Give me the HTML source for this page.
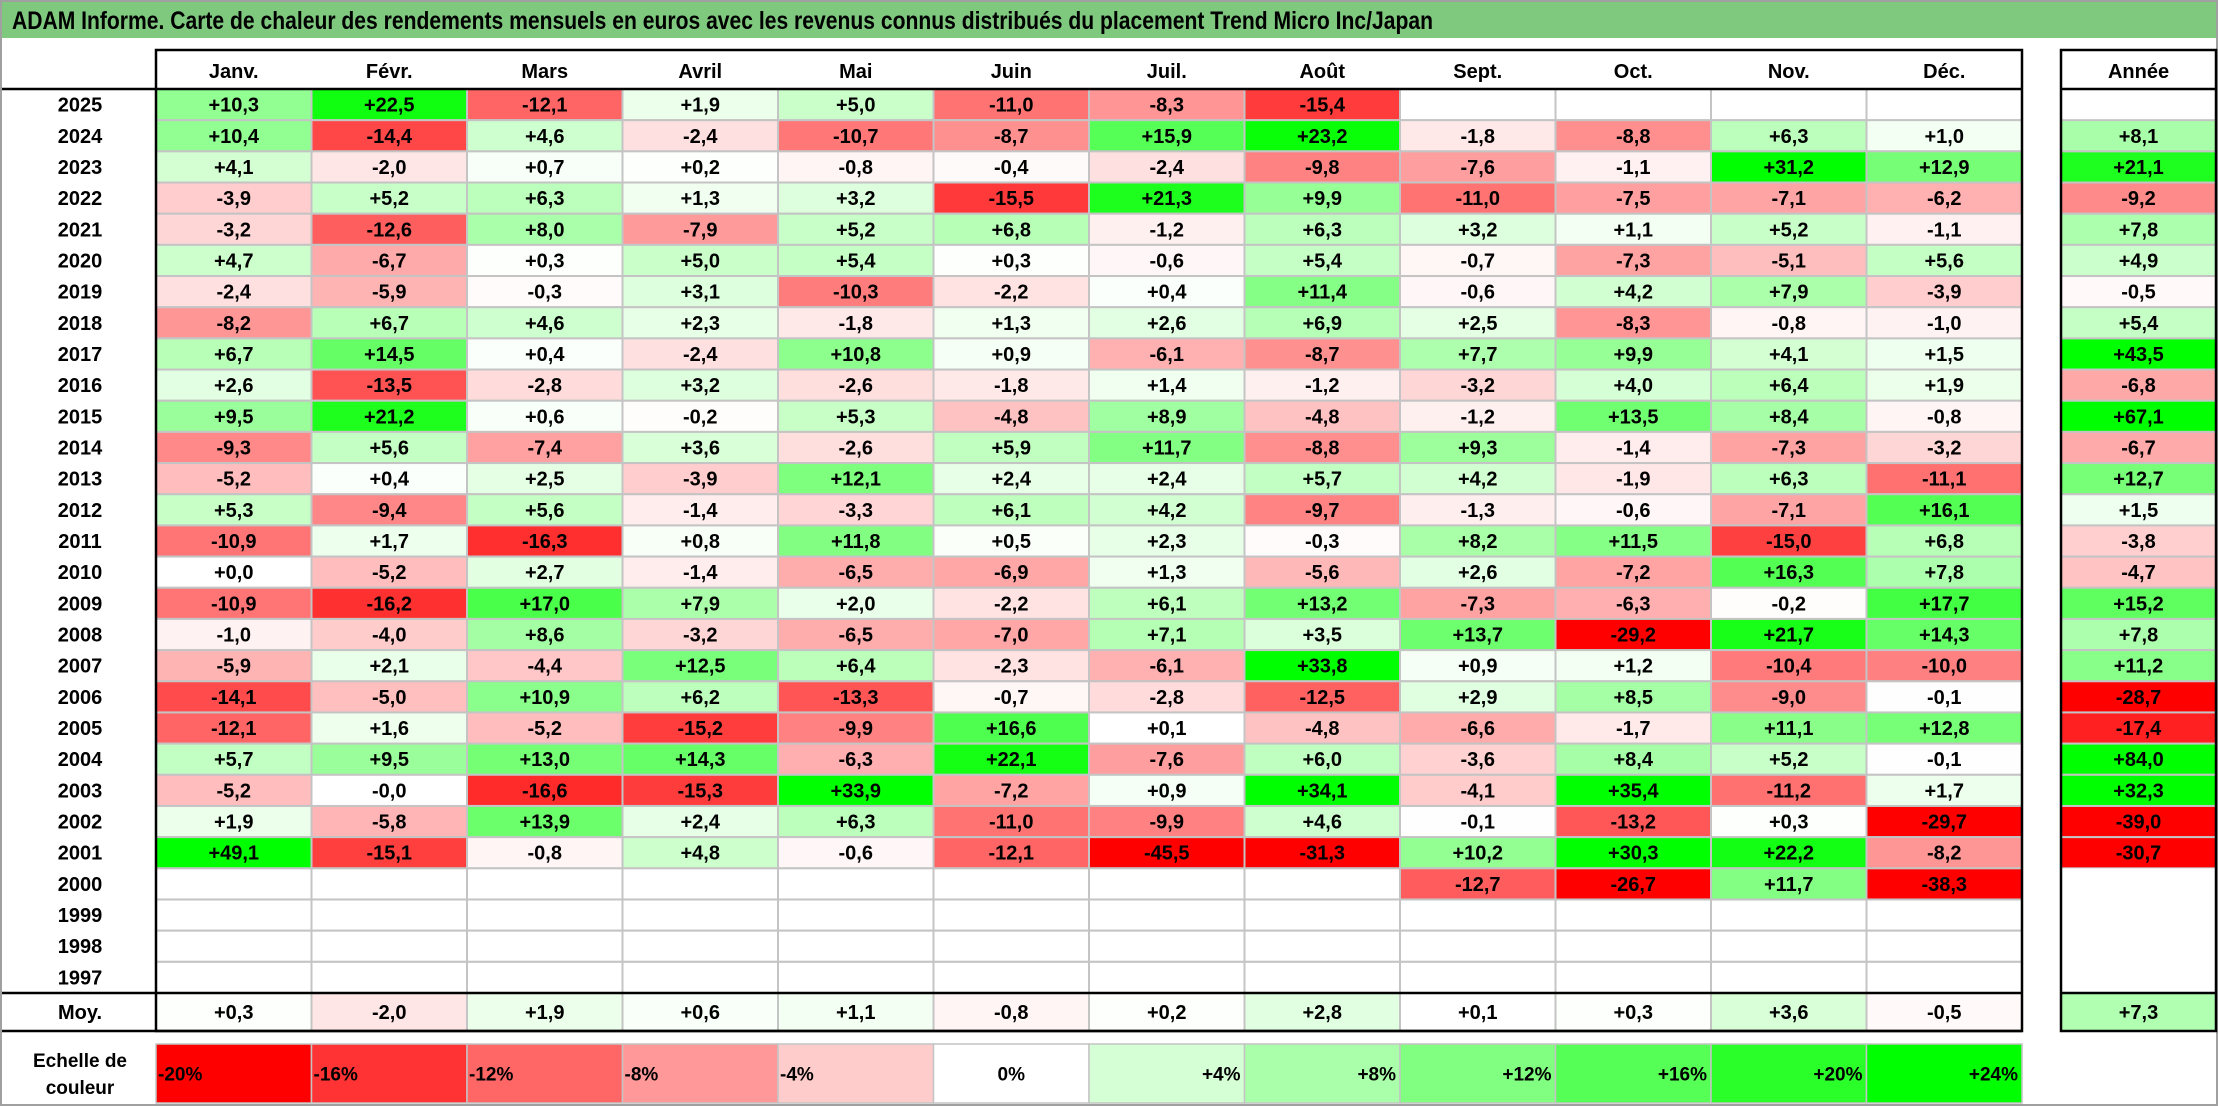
<!DOCTYPE html>
<html><head><meta charset="utf-8">
<style>
html,body{margin:0;padding:0;background:#fff;}
svg{display:block;}
text{font-family:"Liberation Sans",sans-serif;font-weight:bold;fill:#000;}
</style></head>
<body>
<svg id="chart" width="2218" height="1106" xmlns="http://www.w3.org/2000/svg"></svg>
<script>
const months = ["Janv.","Févr.","Mars","Avril","Mai","Juin","Juil.","Août","Sept.","Oct.","Nov.","Déc."];
const years = [2025,2024,2023,2022,2021,2020,2019,2018,2017,2016,2015,2014,2013,2012,2011,2010,2009,2008,2007,2006,2005,2004,2003,2002,2001,2000,1999,1998,1997];
const N = null;
const values = [
[10.3,22.5,-12.1,1.9,5.0,-11.0,-8.3,-15.4,N,N,N,N],
[10.4,-14.4,4.6,-2.4,-10.7,-8.7,15.9,23.2,-1.8,-8.8,6.3,1.0],
[4.1,-2.0,0.7,0.2,-0.8,-0.4,-2.4,-9.8,-7.6,-1.1,31.2,12.9],
[-3.9,5.2,6.3,1.3,3.2,-15.5,21.3,9.9,-11.0,-7.5,-7.1,-6.2],
[-3.2,-12.6,8.0,-7.9,5.2,6.8,-1.2,6.3,3.2,1.1,5.2,-1.1],
[4.7,-6.7,0.3,5.0,5.4,0.3,-0.6,5.4,-0.7,-7.3,-5.1,5.6],
[-2.4,-5.9,-0.3,3.1,-10.3,-2.2,0.4,11.4,-0.6,4.2,7.9,-3.9],
[-8.2,6.7,4.6,2.3,-1.8,1.3,2.6,6.9,2.5,-8.3,-0.8,-1.0],
[6.7,14.5,0.4,-2.4,10.8,0.9,-6.1,-8.7,7.7,9.9,4.1,1.5],
[2.6,-13.5,-2.8,3.2,-2.6,-1.8,1.4,-1.2,-3.2,4.0,6.4,1.9],
[9.5,21.2,0.6,-0.2,5.3,-4.8,8.9,-4.8,-1.2,13.5,8.4,-0.8],
[-9.3,5.6,-7.4,3.6,-2.6,5.9,11.7,-8.8,9.3,-1.4,-7.3,-3.2],
[-5.2,0.4,2.5,-3.9,12.1,2.4,2.4,5.7,4.2,-1.9,6.3,-11.1],
[5.3,-9.4,5.6,-1.4,-3.3,6.1,4.2,-9.7,-1.3,-0.6,-7.1,16.1],
[-10.9,1.7,-16.3,0.8,11.8,0.5,2.3,-0.3,8.2,11.5,-15.0,6.8],
[0.0,-5.2,2.7,-1.4,-6.5,-6.9,1.3,-5.6,2.6,-7.2,16.3,7.8],
[-10.9,-16.2,17.0,7.9,2.0,-2.2,6.1,13.2,-7.3,-6.3,-0.2,17.7],
[-1.0,-4.0,8.6,-3.2,-6.5,-7.0,7.1,3.5,13.7,-29.2,21.7,14.3],
[-5.9,2.1,-4.4,12.5,6.4,-2.3,-6.1,33.8,0.9,1.2,-10.4,-10.0],
[-14.1,-5.0,10.9,6.2,-13.3,-0.7,-2.8,-12.5,2.9,8.5,-9.0,-0.1],
[-12.1,1.6,-5.2,-15.2,-9.9,16.6,0.1,-4.8,-6.6,-1.7,11.1,12.8],
[5.7,9.5,13.0,14.3,-6.3,22.1,-7.6,6.0,-3.6,8.4,5.2,-0.1],
[-5.2,-0,-16.6,-15.3,33.9,-7.2,0.9,34.1,-4.1,35.4,-11.2,1.7],
[1.9,-5.8,13.9,2.4,6.3,-11.0,-9.9,4.6,-0.1,-13.2,0.3,-29.7],
[49.1,-15.1,-0.8,4.8,-0.6,-12.1,-45.5,-31.3,10.2,30.3,22.2,-8.2],
[N,N,N,N,N,N,N,N,-12.7,-26.7,11.7,-38.3],
[N,N,N,N,N,N,N,N,N,N,N,N],
[N,N,N,N,N,N,N,N,N,N,N,N],
[N,N,N,N,N,N,N,N,N,N,N,N]
];
const yearTotals = [N,8.1,21.1,-9.2,7.8,4.9,-0.5,5.4,43.5,-6.8,67.1,-6.7,12.7,1.5,-3.8,-4.7,15.2,7.8,11.2,-28.7,-17.4,84.0,32.3,-39.0,-30.7,N,N,N,N];
const monthAvg = [0.3,-2.0,1.9,0.6,1.1,-0.8,0.2,2.8,0.1,0.3,3.6,-0.5];
const avgTotal = 7.3;
const scaleVals = [-20,-16,-12,-8,-4,0,4,8,12,16,20,24];
const scaleLabels = ["-20%","-16%","-12%","-8%","-4%","0%","+4%","+8%","+12%","+16%","+20%","+24%"];

const svg = document.getElementById('chart');
const NS = "http://www.w3.org/2000/svg";
function mk(tag, attrs, parent){
  const e = document.createElementNS(NS, tag);
  for (const k in attrs) e.setAttribute(k, attrs[k]);
  (parent||svg).appendChild(e);
  return e;
}
function color(v){
  if (v === null) return "#fff";
  if (v < 0){
    const t = Math.min(1, -v/20);
    const g = Math.round(255*(1-t));
    return `rgb(255,${g},${g})`;
  } else {
    const t = Math.min(1, v/24);
    const r = Math.round(255*(1-t));
    return `rgb(${r},255,${r})`;
  }
}
function fmt(v){
  const neg = v < 0 || Object.is(v,-0);
  return (neg ? "-" : "+") + Math.abs(v).toFixed(1).replace(".", ",");
}
// geometry
const X0 = 156, X1 = 2022, CW = (X1-X0)/12;
const HY0 = 50, HY1 = 89;
const RH = (993-89)/29;
const MY0 = 993, MY1 = 1031;
const YX0 = 2061, YX1 = 2216;
const SY0 = 1044, SY1 = 1103;
function xCol(i){ return X0 + i*CW; }
function yRow(j){ return HY1 + j*RH; }

// frame + title
let e;
e = mk('rect',{x:1,y:1,width:2216,height:1104,fill:'#fff',stroke:'#a0a0a0','stroke-width':2});
 
e = mk('rect',{x:2,y:2,width:2214,height:36,fill:'#7fc97f'});
 
e = mk('text',{x:12,y:29,'font-size':25,textLength:1421,lengthAdjust:'spacingAndGlyphs'});
e.textContent = "ADAM Informe. Carte de chaleur des rendements mensuels en euros avec les revenus connus distribués du placement Trend Micro Inc/Japan";
 

// month headers
months.forEach((m,i)=>{
  const t = mk('text',{x:xCol(i)+CW/2,y:HY0+28,'font-size':20,'text-anchor':'middle'});
  t.textContent = m;
  
  
});
e = mk('text',{x:(YX0+YX1)/2,y:HY0+28,'font-size':20,'text-anchor':'middle'});
e.textContent = "Année";
 

// cells
const g = mk('g',{});
 
years.forEach((yr,j)=>{
  const y = yRow(j);
  const lab = mk('text',{x:80,y:y+RH/2+7,'font-size':20,'text-anchor':'middle'});
  lab.textContent = yr;
  
  
  values[j].forEach((v,i)=>{
    const r = mk('rect',{x:xCol(i),y:y,width:CW,height:RH,fill:color(v),stroke:'#c4c4c4','stroke-width':2},g);
    
    
    if (v !== null){
      const t = mk('text',{x:xCol(i)+CW/2,y:y+RH/2+7,'font-size':20,'text-anchor':'middle'},g);
      t.textContent = fmt(v);
      
      
    }
  });
  const tv = yearTotals[j];
  const r = mk('rect',{x:YX0,y:y,width:YX1-YX0,height:RH,fill:color(tv),stroke:tv===null?'none':'#c4c4c4','stroke-width':2},g);
  
  
  if (tv !== null){
    const t = mk('text',{x:(YX0+YX1)/2,y:y+RH/2+7,'font-size':20,'text-anchor':'middle'},g);
    t.textContent = fmt(tv);
    
    
  }
});

// average row
e = mk('text',{x:80,y:(MY0+MY1)/2+7,'font-size':20,'text-anchor':'middle'});
e.textContent = "Moy.";
 
monthAvg.forEach((v,i)=>{
  const r = mk('rect',{x:xCol(i),y:MY0,width:CW,height:MY1-MY0,fill:color(v),stroke:'#c4c4c4','stroke-width':2});
  
  
  const t = mk('text',{x:xCol(i)+CW/2,y:(MY0+MY1)/2+7,'font-size':20,'text-anchor':'middle'});
  t.textContent = fmt(v);
  
  
});
e = mk('rect',{x:YX0,y:MY0,width:YX1-YX0,height:MY1-MY0,fill:color(avgTotal)});
 
e = mk('text',{x:(YX0+YX1)/2,y:(MY0+MY1)/2+7,'font-size':20,'text-anchor':'middle'});
e.textContent = fmt(avgTotal);
 

// black borders
const bl = {fill:'none',stroke:'#000','stroke-width':2.5};
e = mk('rect',Object.assign({x:X0,y:HY0,width:X1-X0,height:MY1-HY0},bl));
 
e = mk('rect',Object.assign({x:YX0,y:HY0,width:YX1-YX0,height:MY1-HY0},bl));
 
[[2,HY1,X1,HY1],[YX0,HY1,YX1,HY1],[2,MY0,X1,MY0],[YX0,MY0,YX1,MY0],[2,MY1,X1,MY1]].forEach((l,k)=>{
  const ln = mk('line',{x1:l[0],y1:l[1],x2:l[2],y2:l[3],stroke:'#000','stroke-width':2.5});
  
  
});

// colour scale
e = mk('text',{x:80,y:1067,'font-size':19,'text-anchor':'middle'});
e.textContent = "Echelle de";
 
e = mk('text',{x:80,y:1094,'font-size':19,'text-anchor':'middle'});
e.textContent = "couleur";
 
scaleVals.forEach((v,i)=>{
  const r = mk('rect',{x:xCol(i),y:SY0,width:CW,height:SY1-SY0,fill:color(v),stroke:'#c4c4c4','stroke-width':1.5});
  
  
  let x, anchor;
  if (v < 0){ x = xCol(i)+2; anchor='start'; }
  else if (v === 0){ x = xCol(i)+CW/2; anchor='middle'; }
  else { x = xCol(i)+CW-4; anchor='end'; }
  const t = mk('text',{x:x,y:(SY0+SY1)/2+7,'font-size':19,'text-anchor':anchor});
  t.textContent = scaleLabels[i];
  
  
});
</script>
</body></html>
